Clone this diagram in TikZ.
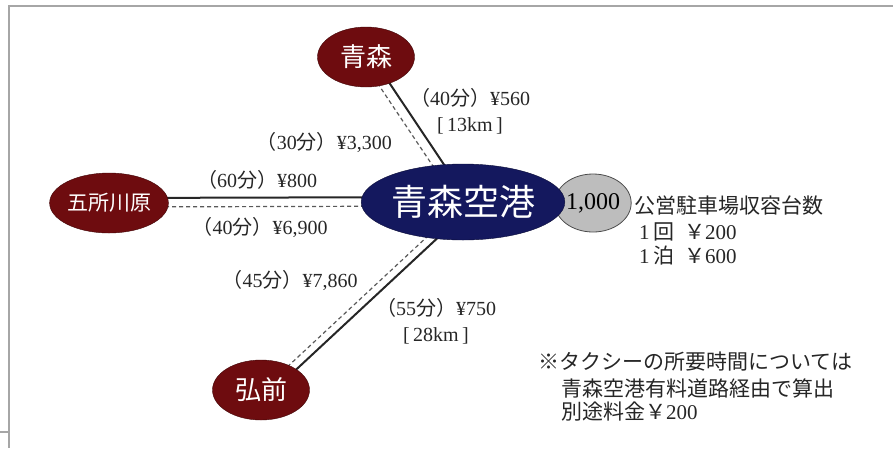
\documentclass[tikz,border=0pt]{standalone}
\usepackage{fontspec}
\setmainfont{Liberation Serif}
\newfontfamily\cjk{Noto Sans CJK JP}
\usetikzlibrary{shapes.geometric,calc,backgrounds}
\definecolor{townred}{HTML}{6E0C0F}
\definecolor{hubblue}{HTML}{14185E}
\definecolor{lotgray}{HTML}{BDBDBD}
\newcommand\jp[1]{{\cjk #1}}

\begin{document}
\begin{tikzpicture}[x=1pt,y=-1pt,
	town/.style={ellipse,fill=townred,draw=townred!60!black,text=white,inner sep=0pt,
		minimum width=97pt,minimum height=60pt,font=\cjk\fontsize{26}{26}\selectfont},
	hub/.style={ellipse,fill=hubblue,draw=hubblue!60!black,text=white,inner sep=0pt,
		minimum width=197pt,minimum height=76pt,font=\cjk\fontsize{36}{36}\selectfont},
	lot/.style={ellipse,fill=lotgray,draw=black!70,line width=0.8pt,inner sep=0pt,
		minimum width=72pt,minimum height=58pt,font=\fontsize{24}{24}\selectfont},
	fee/.style={align=center,inner sep=0pt,text=black!85,font=\fontsize{20}{26}\selectfont},
	info/.style={anchor=west,inner sep=0pt,text=black!85,font=\fontsize{21}{25}\selectfont},
	rail/.style={line width=2pt,black!85},
	taxi/.style={line width=1.2pt,black!65,dash pattern=on 4pt off 3pt}]
	\useasboundingbox (0,0) rectangle (893,448);
	\draw[black!35,line width=1.5pt] (893,6) -- (9,6) -- (9,448);
	\draw[black!35,line width=1.5pt] (0,432) -- (9,432);

	\node[town] (aomori) at (366,57) {青森};
	\node[town,font=\cjk\fontsize{21}{21}\selectfont] (gosho) at (109,203) {五所川原};
	\node[town] (hirosaki) at (261,390) {弘前};
	\node[lot] (lot) at (593,203) {1,000};
	\node[hub] (airport) at (463,202) {青森空港};

	\begin{scope}[on background layer]
		\draw[rail] ($(aomori)!5pt!90:(airport)$) -- ($(airport)!5pt!-90:(aomori)$);
		\draw[taxi] ($(aomori)!5pt!-90:(airport)$) -- ($(airport)!5pt!90:(aomori)$);
		\draw[rail] ($(gosho)!5pt!90:(airport)$) -- ($(airport)!5pt!-90:(gosho)$);
		\draw[taxi] ($(gosho)!4pt!-90:(airport)$) -- ($(airport)!4pt!90:(gosho)$);
		\draw[rail] ($(hirosaki)!9pt!-90:(airport)$) -- ($(airport)!9pt!90:(hirosaki)$);
		\draw[taxi] ($(hirosaki)!1pt!-90:(airport)$) -- ($(airport)!1pt!90:(hirosaki)$);
	\end{scope}

	\node[fee] (fee560) at (470,111) {\jp{（}40\jp{分）}¥560\\{[}\,13km\,{]}};
	\node[fee,anchor=east] (fee3300) at (392,142) {\jp{（}30\jp{分）}¥3,300};
	\node[fee] (fee800) at (257,180) {\jp{（}60\jp{分）}¥800};
	\node[fee] (fee6900) at (260,227) {\jp{（}40\jp{分）}¥6,900};
	\node[fee] (fee7860) at (290,280) {\jp{（}45\jp{分）}¥7,860};
	\node[fee] (fee750) at (436,321) {\jp{（}55\jp{分）}¥750\\{[}\,28km\,{]}};

	\node[info] (park1) at (634,206) {\jp{公営駐車場収容台数}};
	\node[info] (park2) at (639,232) {1\,\jp{回}\hspace{10pt}\jp{￥}200};
	\node[info] (park3) at (639,256) {1\,\jp{泊}\hspace{10pt}\jp{￥}600};

	\node[info] (note1) at (538,362) {\jp{※タクシーの所要時間については}};
	\node[info] (note2) at (561,388) {\jp{青森空港有料道路経由で算出}};
	\node[info] (note3) at (561,412) {\jp{別途料金￥}200};
\end{tikzpicture}
\end{document}
